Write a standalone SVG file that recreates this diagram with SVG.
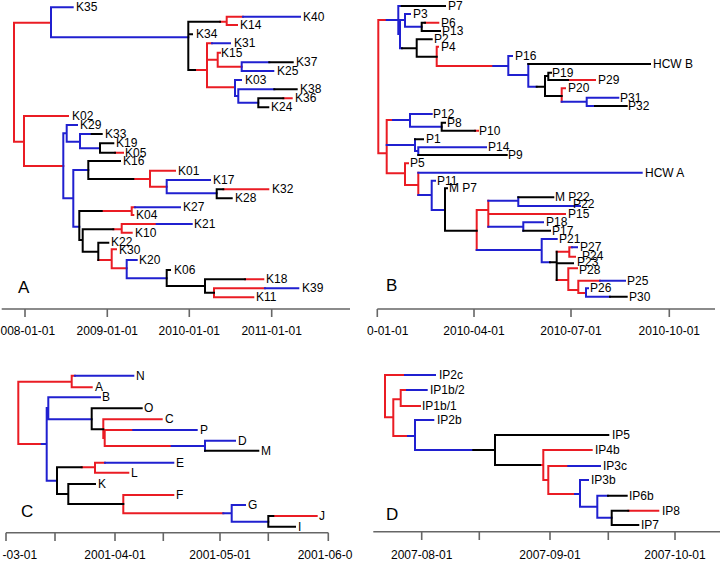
<svg xmlns="http://www.w3.org/2000/svg" width="722" height="561" viewBox="0 0 722 561">
<style>
.r{fill:none;stroke:#ea1c24;stroke-width:2;stroke-linecap:square}
.b{fill:none;stroke:#2020d0;stroke-width:2;stroke-linecap:square}
.k{fill:none;stroke:#000;stroke-width:2;stroke-linecap:square}
.ax{fill:none;stroke:#666;stroke-width:1.6}
text{font-family:"Liberation Sans",Arial,Helvetica,sans-serif;fill:#000}
.t{font-size:12px}
.a{font-size:12px;text-anchor:middle}
.s{font-size:12px}
.L{font-size:17px}
</style>
<rect width="722" height="561" fill="#fff"/>
<g id="connectors">
<path class="r" d="M14 22.7V141.7M14 22.7H51M220 21.7H226.7M226.7 16.7V25M226.7 16.7H243M226.7 25H237M195 70H207M207 43.3V87.3M207 43.3H212M207 59.7H217.7M217.7 52.7V66.7M217.7 52.7H220M217.7 66.7H241.7M207 87.3H235M283.3 98.3H291.7M14 141.7H24M24 116V166M24 116H68M24 166H63.3M115 152.7H123M133.3 179H150M150 170.7V186.7M150 170.7H175M150 186.7H166.7M223.3 189.3H268.3M101.7 211H131.7M131.7 207.3V215M131.7 207.3H135M131.7 215H133.3M113.3 229.3H121.7M121.7 224V232.7M121.7 224H156.7M121.7 232.7H131.7M98.3 260H111.7M111.7 249.3V268.3M111.7 249.3H116M111.7 268.3H126.7M245 279.3H263.3M214 288.3V297.3M214 288.3H265M214 297.3H253.3"/>
<path class="b" d="M51 7.3V37.3M51 7.3H72.7M51 37.3H188.3M243 16.7H300M212 43.3H230M241.7 62.3V71M241.7 62.3H269.3M241.7 71H273.3M235 80V96M235 80H241M235 96H238.3M238.3 89.3V102.7M238.3 89.3H274.3M238.3 102.7H258.3M63.3 133.3V198.3M63.3 133.3H66.7M66.7 125V141.7M66.7 125H77M66.7 141.7H80M80 134V148.3M80 134H91.7M80 148.3H100M63.3 198.3H73.3M73.3 170V226.7M73.3 170H88.3M166.7 180V193.3M166.7 180H210M166.7 193.3H216.7M135 207.3H180M156.7 224H191.7M73.3 226.7H79.3M126.7 260V278.3M126.7 260H136.7M126.7 278.3H166.7M265 288.3H298.3"/>
<path class="k" d="M188.3 21.7V70M188.3 34.3H192M188.3 21.7H220M188.3 70H195M269.3 62.3H292.7M274.3 89.3H296.7M258.3 98.3V107.3M258.3 98.3H283.3M258.3 107.3H268.3M91.7 134H101.7M100 143.3V152.7M100 143.3H113.3M100 152.7H115M88.3 161V179M88.3 161H120M88.3 179H133.3M216.7 189.3V198.3M216.7 189.3H223.3M216.7 198.3H231.7M79.3 211V240M79.3 211H101.7M79.3 240H82.7M82.7 229.3V251.7M82.7 229.3H113.3M82.7 251.7H98.3M98.3 242.7V260M98.3 242.7H108.3M166.7 270V286M166.7 270H170M166.7 286H205M205 279.3V292.7M205 279.3H245M205 292.7H214"/>
<path class="r" d="M378.3 20V153.3M378.3 20H386.7M425 22.7H438.3M436.7 46.7V66M436.7 46.7H438M436.7 66H493.3M568 80H595M561.7 88.3V101.7M561.7 88.3H565M378.3 153.3H386.7M386.7 120V173.3M386.7 120H393M475 130.7H478M386.7 173.3H405M405 163.3V185M405 163.3H408M405 185H418.3M418.3 172.7V195M476.7 210V250M476.7 210H488.3M488.3 200.7V226.7M488.3 214H565M556.7 251.7H569.3M569.3 247.3V256.7M569.3 247.3H572M569.3 256.7H575M556.7 280H568.3M568.3 268.3V290M568.3 268.3H577M568.3 290H578.3M578.3 280.7V293M578.3 280.7H600M578.3 293H586"/>
<path class="b" d="M386.7 20H398.3M398.3 6V34M398.3 34H400M400 20V48.3M398.3 6H401.7M400 20H405M405 14V26.7M405 14H410M405 26.7H421.7M400 48.3H402M493.3 66H508.3M508.3 56V75M508.3 56H512M508.3 75H528.3M528.3 64V86.7M528.3 86.7H536.7M561.7 101.7H586.7M586.7 97.7V106M586.7 97.7H618.3M586.7 106H595M393 120H410M410 114V126.7M410 114H431.7M410 126.7H441.7M386.7 145H415M415 139.3V151M415 151H418.3M418.3 147.3V155M418.3 147.3H486M418.3 172.7H641.7M418.3 195H431.7M431.7 180.7V210M431.7 180.7H435M431.7 210H445M488.3 200.7H518.3M518.3 197.3V206M518.3 206H580M488.3 226.7H523.3M523.3 222.3V230.7M523.3 222.3H543M476.7 250H541.7M541.7 239V262.3M541.7 239H556.7M541.7 262.3H550M572 247.3H577M600 280.7H625M586 288.3V296.7M586 288.3H588M586 296.7H610"/>
<path class="k" d="M401.7 6H445M421.7 22.7V31M421.7 22.7H425M421.7 31H440M402 48.3H416.7M416.7 39.3V56.7M416.7 39.3H431.7M416.7 56.7H436.7M528.3 64H650M536.7 86.7H545M545 76V96M545 76H548.3M548.3 72.7V80M548.3 72.7H551M548.3 80H568M545 96H561.7M595 106H626.7M441.7 122.7V130.7M441.7 122.7H445M441.7 130.7H475M415 139.3H423M418.3 155H506.7M445 188.3V230.7M445 188.3H447M445 230.7H476.7M518.3 197.3H553.3M523.3 230.7H550M550 262.3H556.7M556.7 251.7V280M556.7 263.3H573M610 296.7H626.7"/>
<path class="r" d="M18.3 381.7V444M18.3 381.7H71.7M71.7 375.7V387.3M71.7 375.7H75M71.7 387.3H91.7M18.3 444H41.7M103.3 419.3V438M103.3 438H104.7M104.7 430V446M103.3 419.3H161.7M104.7 430H133.3M104.7 446H171.7M81.7 467.3H95M95 462.7V472.7M95 462.7H105M95 472.7H128.3M123.3 495V513.3M123.3 495H173.3M123.3 513.3H223.3M273.3 516H316.7"/>
<path class="b" d="M75 375.7H133.3M41.7 444H46.7M46.7 408V480.7M46.7 408H48.3M48.3 397.3V419.3M48.3 397.3H100M48.3 419.3H91.7M133.3 430H196.7M171.7 446H205M205 440.7V450.7M205 440.7H235M46.7 480.7H57M105 462.7H173.3M223.3 513.3H231.7M231.7 505V521.7M231.7 505H245M231.7 521.7H268.3"/>
<path class="k" d="M91.7 408.3V429.3M91.7 408.3H141.7M91.7 429.3H103.3M205 450.7H258.3M57 467.3V494M57 467.3H81.7M57 494H68.3M68.3 484V504M68.3 484H95M68.3 504H123.3M268.3 516V526.7M268.3 516H273.3M268.3 526.7H295"/>
<path class="r" d="M385 375V417.3M385 375H405M385 417.3H393.3M393.3 399.3V436M393.3 399.3H400.7M400.7 390V406M400.7 390H407M400.7 406H420M393.3 436H408M540 465H543.3M543.3 450V480M543.3 450H591.7M543.3 480H548.3M548.3 466V494M548.3 466H568.3M548.3 494H575M628.3 510.7H658.3"/>
<path class="b" d="M405 375H435M407 390H426.7M408 436H415M415 420V450M415 420H433.3M415 450H473.3M568.3 466H600M575 494H580M580 480V506.7M580 480H588M580 506.7H597.3M597.3 495.7V517.7M597.3 495.7H608M597.3 517.7H611.7"/>
<path class="k" d="M473.3 450H495M495 435V465M495 435H608.3M495 465H540M608 495.7H626.7M611.7 510.7V525M611.7 510.7H628.3M611.7 525H638.3"/>
</g>
<g id="axis-A">
<path class="ax" d="M1.7 309H350M25 309V317M107.3 309V317M189.3 309V317M271.7 309V317"/>
<text class="s" x="0.5" y="335">008-01-01</text>
<text class="a" x="107.3" y="335">2009-01-01</text>
<text class="a" x="189.3" y="335">2010-01-01</text>
<text class="a" x="271.7" y="335">2011-01-01</text>
<text class="L" x="18" y="293">A</text>
</g>
<g id="axis-B">
<path class="ax" d="M377.3 309H715M377.3 309V317M474 309V317M571 309V317M669.3 309V317"/>
<text class="s" x="367" y="335">0-01-01</text>
<text class="a" x="474" y="335">2010-04-01</text>
<text class="a" x="571" y="335">2010-07-01</text>
<text class="a" x="669.3" y="335">2010-10-01</text>
<text class="L" x="386" y="291">B</text>
</g>
<g id="axis-C">
<path class="ax" d="M6 532.7H328.3M6 532.7V541M55 532.7V541M115 532.7V541M163.3 532.7V541M220 532.7V541M268.3 532.7V541M328.3 532.7V541"/>
<text class="s" x="2.5" y="559">-03-01</text>
<text class="a" x="115" y="559">2001-04-01</text>
<text class="a" x="220" y="559">2001-05-01</text>
<text class="s" x="297.7" y="559">2001-06-0</text>
<text class="L" x="21" y="517">C</text>
</g>
<g id="axis-D">
<path class="ax" d="M373.3 531.7H720M421.7 531.7V540M479.3 531.7V540M550 531.7V540M608.3 531.7V540M675 531.7V540"/>
<text class="a" x="421.7" y="559">2007-08-01</text>
<text class="a" x="550" y="559">2007-09-01</text>
<text class="a" x="675" y="559">2007-10-01</text>
<text class="L" x="386" y="520">D</text>
</g>
<g id="tips-A" class="t">
<g id="K35"><text x="76" y="11.3">K35</text></g>
<g id="K40"><text x="303" y="20.7">K40</text></g>
<g id="K14"><text x="240" y="29">K14</text></g>
<g id="K34"><text x="196" y="38.3">K34</text></g>
<g id="K31"><text x="234" y="47.3">K31</text></g>
<g id="K15"><text x="221" y="56.7">K15</text></g>
<g id="K37"><text x="296" y="66.3">K37</text></g>
<g id="K25"><text x="277" y="75">K25</text></g>
<g id="K03"><text x="245" y="84">K03</text></g>
<g id="K38"><text x="300" y="93.3">K38</text></g>
<g id="K36"><text x="295" y="102.3">K36</text></g>
<g id="K24"><text x="271" y="111.3">K24</text></g>
<g id="K02"><text x="72" y="120">K02</text></g>
<g id="K29"><text x="80" y="129">K29</text></g>
<g id="K33"><text x="105" y="138">K33</text></g>
<g id="K19"><text x="116" y="147.3">K19</text></g>
<g id="K05"><text x="125" y="156.7">K05</text></g>
<g id="K16"><text x="123" y="165">K16</text></g>
<g id="K01"><text x="178" y="174.7">K01</text></g>
<g id="K17"><text x="213" y="184">K17</text></g>
<g id="K32"><text x="272" y="193.3">K32</text></g>
<g id="K28"><text x="235" y="202.3">K28</text></g>
<g id="K27"><text x="183" y="211.3">K27</text></g>
<g id="K04"><text x="136" y="219">K04</text></g>
<g id="K21"><text x="194" y="228">K21</text></g>
<g id="K10"><text x="135" y="236.7">K10</text></g>
<g id="K22"><text x="111" y="246.2">K22</text></g>
<g id="K30"><text x="119" y="254">K30</text></g>
<g id="K20"><text x="139" y="263.5">K20</text></g>
<g id="K06"><text x="174" y="273.5">K06</text></g>
<g id="K18"><text x="266" y="283.3">K18</text></g>
<g id="K39"><text x="302" y="292.3">K39</text></g>
<g id="K11"><text x="256" y="301.3">K11</text></g>
</g>
<g id="tips-B" class="t">
<g id="P7"><text x="448" y="10">P7</text></g>
<g id="P3"><text x="413" y="18">P3</text></g>
<g id="P6"><text x="441" y="26.7">P6</text></g>
<g id="P13"><text x="442" y="35">P13</text></g>
<g id="P2"><text x="434" y="43.3">P2</text></g>
<g id="P4"><text x="441" y="50.7">P4</text></g>
<g id="P16"><text x="515" y="60">P16</text></g>
<g id="HCWB"><text x="653" y="68">HCW B</text></g>
<g id="P19"><text x="552" y="76.7">P19</text></g>
<g id="P29"><text x="598" y="84">P29</text></g>
<g id="P20"><text x="568" y="92.3">P20</text></g>
<g id="P31"><text x="620" y="101.7">P31</text></g>
<g id="P32"><text x="628" y="110">P32</text></g>
<g id="P12"><text x="433" y="118">P12</text></g>
<g id="P8"><text x="447" y="126.7">P8</text></g>
<g id="P10"><text x="479" y="134.7">P10</text></g>
<g id="P1"><text x="426" y="143.3">P1</text></g>
<g id="P14"><text x="488" y="151.3">P14</text></g>
<g id="P9"><text x="508" y="159">P9</text></g>
<g id="P5"><text x="410" y="167.3">P5</text></g>
<g id="HCWA"><text x="645" y="176.7">HCW A</text></g>
<g id="P11"><text x="437" y="184.7">P11</text></g>
<g id="MP7"><text x="449" y="192.3">M P7</text></g>
<g id="MP22"><text x="555" y="201.3">M P22</text></g>
<g id="P22"><text x="573" y="208">P22</text></g>
<g id="P15"><text x="568" y="218">P15</text></g>
<g id="P18"><text x="546" y="226.3">P18</text></g>
<g id="P17"><text x="552" y="234.7">P17</text></g>
<g id="P21"><text x="559" y="243">P21</text></g>
<g id="P27"><text x="580" y="251.3">P27</text></g>
<g id="P24"><text x="582" y="259.5">P24</text></g>
<g id="P23"><text x="577" y="266">P23</text></g>
<g id="P28"><text x="579" y="274">P28</text></g>
<g id="P25"><text x="627" y="284.7">P25</text></g>
<g id="P26"><text x="590" y="292.3">P26</text></g>
<g id="P30"><text x="629" y="300.7">P30</text></g>
</g>
<g id="tips-C" class="t">
<g id="N"><text x="136" y="379.7">N</text></g>
<g id="A"><text x="95" y="391.3">A</text></g>
<g id="B"><text x="102" y="401.3">B</text></g>
<g id="O"><text x="144" y="412.3">O</text></g>
<g id="C"><text x="165" y="423.3">C</text></g>
<g id="P"><text x="200" y="434">P</text></g>
<g id="D"><text x="238" y="444.7">D</text></g>
<g id="M"><text x="261" y="454.7">M</text></g>
<g id="E"><text x="176" y="466.7">E</text></g>
<g id="L"><text x="131" y="476.7">L</text></g>
<g id="K"><text x="98" y="488">K</text></g>
<g id="F"><text x="176" y="499">F</text></g>
<g id="G"><text x="248" y="509">G</text></g>
<g id="J"><text x="319" y="520">J</text></g>
<g id="I"><text x="298" y="530.7">I</text></g>
</g>
<g id="tips-D" class="t">
<g id="IP2c"><text x="439" y="379">IP2c</text></g>
<g id="IP1b2"><text x="430" y="394">IP1b/2</text></g>
<g id="IP1b1"><text x="422" y="410">IP1b/1</text></g>
<g id="IP2b"><text x="437" y="424">IP2b</text></g>
<g id="IP5"><text x="612" y="439">IP5</text></g>
<g id="IP4b"><text x="595" y="454">IP4b</text></g>
<g id="IP3c"><text x="603" y="470">IP3c</text></g>
<g id="IP3b"><text x="591" y="484">IP3b</text></g>
<g id="IP6b"><text x="629" y="499.7">IP6b</text></g>
<g id="IP8"><text x="662" y="514.7">IP8</text></g>
<g id="IP7"><text x="641" y="529">IP7</text></g>
</g>
</svg>
